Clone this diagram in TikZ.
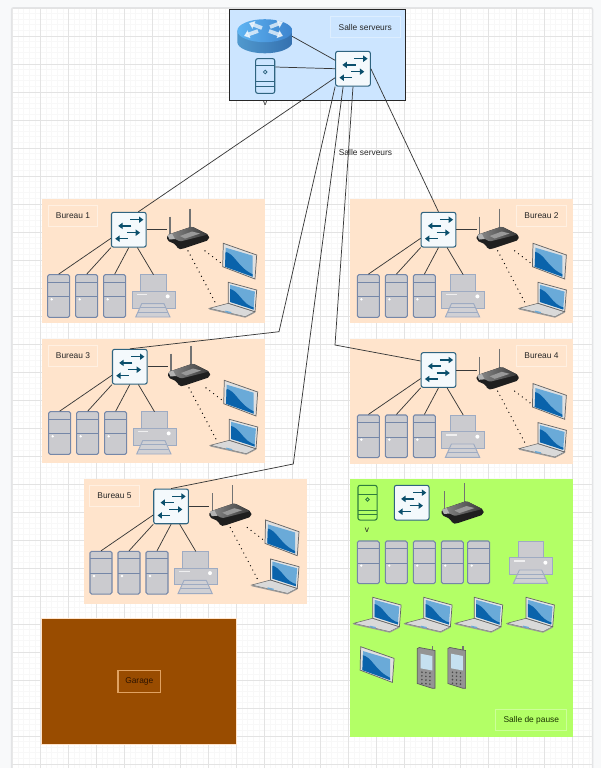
\documentclass[tikz,border=0pt]{standalone}
\usepackage{fontspec}
\setmainfont{Liberation Sans}
\usetikzlibrary{calc,arrows.meta,shapes.geometric}
\definecolor{outerbg}{HTML}{F8F9FA}
\definecolor{pageedge}{HTML}{E3E4E6}
\definecolor{gridminor}{HTML}{F8F8F8}
\definecolor{gridmajor}{HTML}{E3E3E3}
\definecolor{peach}{HTML}{FFE4CC}
\definecolor{peachedge}{HTML}{FFF0E2}
\definecolor{skyroom}{HTML}{CCE5FF}
\definecolor{skyedge}{HTML}{DDEEFF}
\definecolor{limeroom}{HTML}{B3FF66}
\definecolor{limeedge}{HTML}{CCFF99}
\definecolor{brownroom}{HTML}{994C00}
\definecolor{brownedge}{HTML}{E0A262}
\definecolor{swedge}{HTML}{2F6480}
\definecolor{swfill}{HTML}{F4F9FC}
\definecolor{swarrow}{HTML}{0B4F6C}
\definecolor{srvfill}{HTML}{CBCBCF}
\definecolor{srvedge}{HTML}{7587A8}
\definecolor{wire}{HTML}{383838}
\definecolor{scrlight}{HTML}{6AAAD8}
\definecolor{scrdark}{HTML}{0A63AB}
\definecolor{greenedge}{HTML}{2F7D3E}
\definecolor{phonescreen}{HTML}{C5E0F0}
\definecolor{routerleft}{HTML}{5FB4F2}
\definecolor{routerright}{HTML}{3D84CE}
\definecolor{garagetext}{HTML}{2E1400}
\definecolor{pausetext}{HTML}{1A3300}
\tikzset{
  x=0.75pt,y=-0.75pt,
  wirel/.style={draw=wire,line width=0.55pt},
  dotl/.style={draw=black,line width=1pt,line cap=round,dash pattern=on 0pt off 3.6pt},
  roomlabel/.style={draw,line width=0.75pt,inner sep=0pt,font=\fontsize{6.3pt}{8pt}\selectfont},
  swbox/.style={draw=swedge,fill=swfill,line width=0.8pt,rounded corners=1.5pt,minimum width=26pt,minimum height=26pt,inner sep=0pt},
  swarr/.style={draw=swarrow,line width=1.15pt,-{Triangle[length=3.3pt,width=4.6pt]}},
  srvbox/.style={draw=srvedge,fill=srvfill,line width=0.8pt,rounded corners=1.2pt,minimum width=16.5pt,minimum height=32pt,inner sep=0pt},
  srvline/.style={draw=srvedge,line width=0.7pt},
  ghost/.style={inner sep=0pt,outer sep=0pt},
  pctedge/.style={draw=black!60,line width=0.55pt},
}
\newcommand\switchicon[2]{\begin{scope}[shift={(#2)}]
  \node[swbox] (#1) at (0,0) {};
  \draw[swarr] (1.3,-10) -- (14.6,-10);
  \draw[swarr] (2.6,-3.8) -- (-10.6,-3.8);
  \draw[swarr] (-2,3) -- (11.3,3);
  \draw[swarr] (-1,9) -- (-13.6,9);
\end{scope}}
\newcommand\servericon[2]{\begin{scope}[shift={(#2)}]
  \node[srvbox] (#1) at (11,21.3) {};
  \draw[srvline] (0,7.3) -- (22,7.3);
  \draw[srvline] (0,22) -- (22,22);
  \fill[white] (4,24.6) circle (1.3);
\end{scope}}
\newcommand\printericon[2]{\begin{scope}[shift={(#2)}]
  \node[ghost,minimum width=32.25pt,minimum height=32pt] (#1) at (21.5,21.3) {};
  \draw[srvline,fill=srvfill,draw=srvedge!70!white] (8.3,0) rectangle (34,17);
  \draw[srvline,fill=srvfill,draw=srvedge!70!white] (0,16.7) rectangle (43,33.3);
  \fill[white,opacity=.7] (4.7,19.4) rectangle (15.3,20.6);
  \fill[white] (35.7,21.7) circle (2);
  \draw[srvline,fill=srvfill!90!white,draw=srvedge!70!white] (9.7,29) -- (32,29) -- (38,42.3) -- (3.7,42.3) -- cycle;
  \draw[srvline,draw=srvedge!70!white] (8,33) -- (33.7,33) (6,37.5) -- (36,37.5);
\end{scope}}
\newcommand\routericon[2]{\begin{scope}[shift={(#2)}]
  \node[ghost,minimum width=31.5pt,minimum height=17pt] (#1) at (0,0) {};
  \draw[black!55,line width=0.9pt] (-18,-20) -- (-18,3);
  \draw[black!55,line width=0.9pt] (2,-28) -- (2,-6);
  \fill[black!88,rounded corners=1.5pt] (-21,-1.5) -- (-21,4) -- (-12,8) -- (-10,12.8) -- (-6,12.5) -- (21,3.5) -- (21,-1.5) -- (4,-10) -- cycle;
  \shade[left color=black!45,right color=black!78,rounded corners=1pt] (-20.7,-1.5) -- (4,-10) -- (20,-2) -- (-8,5) -- cycle;
  \fill[black!30] (-20.5,-1.2) -- (-16,-3) -- (-13,2.5) -- (-18.5,3) -- cycle;
  \fill[black!40] (4,-5) -- (12,-3) -- (-3,2) -- (-8,-0.5) -- cycle;
\end{scope}}
\newcommand\screenfill[8]{% four corner points
  \fill[scrlight] (#1,#2) -- (#3,#4) -- (#5,#6) -- (#7,#8) -- cycle;
  \begin{scope}
    \clip (#1,#2) -- (#3,#4) -- (#5,#6) -- (#7,#8) -- cycle;
    \fill[scrdark] ($(#1,#2)+(-2,3.6)$) .. controls ($(#1,#2)+(10,5.5)$) and ($(#1,#2)+(11,20)$) .. ($(#5,#6)+(2,-1.5)$) -- ($(#5,#6)+(3,3)$) -- ($(#7,#8)+(-3,3)$) -- cycle;
  \end{scope}}
\newcommand\tableticon[2]{\begin{scope}[shift={(#2)}]
  \node[ghost,minimum width=25.5pt,minimum height=26.7pt] (#1) at (16.7,17.8) {};
  \draw[pctedge,fill=black!12] (0,0) -- (33.4,11.7) -- (31.7,35.7) -- (-0.6,23.4) -- cycle;
  \screenfill{2.4}{4.4}{29.4}{12.4}{29.4}{33.4}{1.7}{23.4}
\end{scope}}
\newcommand\laptopicon[2]{\begin{scope}[shift={(#2)}]
  \node[ghost,minimum width=35.6pt,minimum height=25.8pt] (#1) at (4.7,17.2) {};
  \draw[pctedge,fill=black!15,line width=0.4pt] (-19,26) -- (0,21) -- (26.7,29.4) -- (17,34.4) -- cycle;
  \fill[black!40] (-19,26) -- (-19,27.2) -- (17,35.4) -- (26.7,30.4) -- (26.7,29.4) -- (17,34.4) -- cycle;
  \draw[scrlight,line width=1pt] (-3,29) -- (3,30.4);
  \draw[pctedge,fill=black!10] (0,0) -- (28.4,7.7) -- (26.7,29.4) -- (0,21) -- cycle;
  \screenfill{1.8}{2.5}{26.6}{9.3}{25.2}{27.2}{1.8}{19.6}
\end{scope}}
\newcommand\phoneicon[2]{\begin{scope}[shift={(#2)}]
  \node[ghost,minimum width=13.3pt,minimum height=31.7pt] (#1) at (8.9,21.2) {};
  \draw[black!55,line width=0.9pt] (15,0) -- (15,4.5);
  \draw[black!65,line width=0.5pt,fill=black!42] (0,2.5) -- (2,1.5) -- (17.7,4.5) -- (17.7,42.3) -- (15,42.3) -- (0,37.5) -- cycle;
  \fill[phonescreen] (3.3,7.7) -- (15,10) -- (15,24.5) -- (3.3,22.3) -- cycle;
  \foreach \cx in {0,1,2} \foreach \cy in {0,1,2,3}
    \fill[black!70] ({4.6+4*\cx},{26.2+3.7*\cy+0.4*\cx}) circle (0.9);
\end{scope}}
\newcommand\bureauset[2]{\begin{scope}[shift={(#2)}]
  \switchicon{#1sw}{128.8,229.7}
  \routericon{#1rt}{188,236.5}
  \tableticon{#1tb}{223.3,243.3}
  \laptopicon{#1lp}{228.3,282.3}
  \servericon{#1sa}{47.7,274.7}
  \servericon{#1sb}{75.7,274.7}
  \servericon{#1sc}{103.7,274.7}
  \printericon{#1pr}{132,274.7}
  \draw[wirel] (#1sw.east) -- (#1sw.east -| #1rt.west);
  \draw[wirel] ($(#1sw.west)+(0,8.6)$) -- (#1sa.north);
  \draw[wirel] (#1sw.south west) -- (#1sb.north);
  \draw[wirel] (#1sw.south) -- (#1sc.north);
  \draw[wirel] ($(#1sw.south)+(8.6,0)$) -- (#1pr.north);
  \draw[dotl] ($(#1rt.south)+(0,3)$) -- ($(#1lp.west)+(5.7,2.5)$);
  \draw[dotl] ($(#1rt.south)+(17,3)$) -- ($(#1tb.west)+(-2,2)$);
\end{scope}}
\begin{document}
\begin{tikzpicture}
\useasboundingbox (0,0) rectangle (601,768);
\fill[outerbg] (0,0) rectangle (601,768);
% page sheet
\draw[pageedge,line width=1.2pt,fill=white,rounded corners=1.5pt] (11.7,7.8) rectangle (592.6,775);
\begin{scope}
  \clip (12.3,8.4) rectangle (592,768);
  \foreach \i in {0,...,104} \draw[gridminor,line width=0.6pt] ({12.67+5.6*\i},8) -- ({12.67+5.6*\i},768);
  \foreach \i in {0,...,136} \draw[gridminor,line width=0.6pt] (12,{8+5.6*\i}) -- (593,{8+5.6*\i});
  \foreach \i in {0,...,20} \draw[gridmajor,line width=0.6pt] ({12.67+28*\i},8) -- ({12.67+28*\i},768);
  \foreach \i in {0,...,27} \draw[gridmajor,line width=0.6pt] (12,{8+28*\i}) -- (593,{8+28*\i});
\end{scope}
% rooms
\fill[peach] (41.5,199) rectangle (265,323);
\fill[peach] (349.5,199) rectangle (572.7,323.3);
\fill[peach] (41.5,339) rectangle (265,463);
\fill[peach] (349.7,339.3) rectangle (572.7,463.5);
\fill[peach] (84,479) rectangle (307,603.5);
\fill[limeroom] (350,479) rectangle (572.7,736.7);
\fill[brownroom] (41.7,618.7) rectangle (236.7,744);
\draw[peach,line width=0.5pt] (41.7,618.7) rectangle (236.7,744);
\draw[black!85,fill=skyroom,line width=0.75pt] (229.7,9.5) rectangle (405.3,100.3);
% labels
\node[roomlabel,draw=skyedge,fill=skyroom,minimum width=52.5pt,minimum height=15.5pt,text=black!85] (lblsrv) at (365.3,27) {Salle serveurs};
\node[roomlabel,draw=none,text=black!85] (lblfree) at (365.5,152) {Salle serveurs};
\node[roomlabel,draw=peachedge,fill=peach,minimum width=37pt,minimum height=15.7pt,text=black!85] (lblb1) at (73,216) {Bureau 1};
\node[roomlabel,draw=peachedge,fill=peach,minimum width=37pt,minimum height=15.7pt,text=black!85] (lblb2) at (541.5,216) {Bureau 2};
\node[roomlabel,draw=peachedge,fill=peach,minimum width=37pt,minimum height=15.7pt,text=black!85] (lblb3) at (73,356) {Bureau 3};
\node[roomlabel,draw=peachedge,fill=peach,minimum width=37pt,minimum height=15.7pt,text=black!85] (lblb4) at (541.5,356) {Bureau 4};
\node[roomlabel,draw=peachedge,fill=peach,minimum width=37pt,minimum height=15.7pt,text=black!85] (lblb5) at (114.5,496) {Bureau 5};
\node[roomlabel,draw=limeedge,fill=limeroom,minimum width=53pt,minimum height=16.2pt,text=pausetext] (lblpause) at (531.3,720) {Salle de pause};
\node[roomlabel,draw=brownedge,line width=1pt,fill=brownroom,minimum width=32pt,minimum height=16.5pt,text=garagetext] (lblgarage) at (139.3,681.3) {Garage};
% server room
\node[ghost,minimum width=41pt,minimum height=25.5pt] (cloud) at (264.8,36.3) {};
\shade[left color=routerleft!85!black,right color=routerright!85!black] (237.3,30.7) -- (237.3,42) arc[start angle=180,end angle=0,x radius=27.5,y radius=11.3] -- (292.3,30.7) -- cycle;
\shade[left color=routerleft,right color=routerright] (264.8,30.7) ellipse[x radius=27.5,y radius=11.5];
\begin{scope}[white,opacity=.7,line width=2.8pt]
  \draw[-{Triangle[length=4pt,width=6pt]}] (269,31) -- (283,36);
  \draw[-{Triangle[length=4pt,width=6pt]}] (262,28) -- (249,23);
  \draw[-{Triangle[length=4pt,width=6pt]}] (258,31) -- (244,36);
  \draw[-{Triangle[length=4pt,width=6pt]}] (270,27) -- (283,22);
\end{scope}
\node[draw=swedge,fill=skyroom,line width=0.8pt,rounded corners=1.5pt,minimum width=14.3pt,minimum height=26pt,inner sep=0pt] (srvtop) at (265.2,76) {};
\draw[swedge,line width=0.7pt] (255.7,65.7) -- (274.7,65.7) (255.7,81) -- (274.7,81) (255.7,86.5) -- (274.7,86.5);
\draw[swedge,line width=0.6pt] (265.2,72) circle (1.8);
\node[font=\fontsize{6.3pt}{8pt}\selectfont,inner sep=0pt,text=black!85] (vtop) at (265.3,103) {v};
\switchicon{main}{353,68.7}
\draw[wirel] (cloud.east) -- (main.west |- 0,60.3);
\draw[wirel] ($(srvtop.east)+(0,-9)$) -- (main.west);
% offices
\bureauset{ba}{0,0}
\bureauset{bb}{309.7,0}
\bureauset{bc}{1,137}
\bureauset{bd}{309.7,140.3}
\bureauset{be}{42.3,276.7}
% pause room
\node[draw=greenedge,fill=limeroom,line width=0.8pt,rounded corners=1.5pt,minimum width=14.3pt,minimum height=26pt,inner sep=0pt] (srvgreen) at (367.5,502.7) {};
\draw[greenedge,line width=0.7pt] (358,494.3) -- (377,494.3) (358,510) -- (377,510) (358,514.5) -- (377,514.5);
\draw[greenedge,line width=0.6pt] (367.5,499.5) circle (1.8);
\node[font=\fontsize{6.3pt}{8pt}\selectfont,inner sep=0pt,text=black!85] (vgreen) at (367,530.5) {v};
\switchicon{gsw}{411.7,502.7}
\routericon{grt}{462.5,511}
\servericon{ga}{357.3,541}
\servericon{gb}{385.3,541}
\servericon{gc}{413.3,541}
\servericon{gd}{441.3,541}
\servericon{ge}{467.7,541}
\printericon{gp}{509.7,541}
\laptopicon{gl1}{372.7,597.3}
\laptopicon{gl2}{423.7,597.3}
\laptopicon{gl3}{474.3,597.3}
\laptopicon{gl4}{526,597.3}
\tableticon{gt}{360.7,646.7}
\phoneicon{gph1}{417.3,646}
\phoneicon{gph2}{447.9,646}
% backbone
\coordinate (wpc) at (279,331.7);
\coordinate (wpe) at (293.3,464);
\coordinate (wpd) at (335,345);
\draw[wirel] ($(main.west)+(0,9)$) -- ($(basw.north)+(9.5,0)$);
\draw[wirel] (main.south west) -- (wpc) -- (bcsw.north);
\draw[wirel] ($(main.south west)+(8,0)$) -- (wpe) -- (besw.north);
\draw[wirel] (main.south) -- (wpd) -- ($(bdsw.west)+(0,-9)$);
\draw[wirel] (main.east) -- (bbsw.north);
\end{tikzpicture}
\end{document}
